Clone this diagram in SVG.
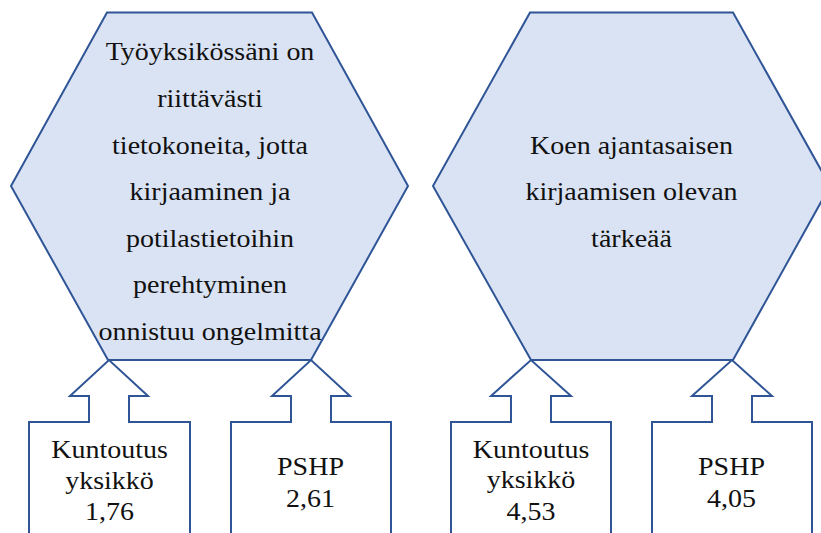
<svg xmlns="http://www.w3.org/2000/svg" width="821" height="533" viewBox="0 0 821 533">
<style>
.hex{fill:#DAE3F3;stroke:#2F5597;stroke-width:2;stroke-linejoin:miter}
.call{fill:#FFFFFF;stroke:#2F5597;stroke-width:2;stroke-linejoin:miter}
.t{font-family:'Liberation Serif','DejaVu Serif',serif;font-size:25px;fill:#111111;text-anchor:middle}
</style>
<rect width="821" height="533" fill="#FFFFFF"/>
<g id="connectors"></g>
<g id="hex1">
<polygon class="hex" points="107,12.5 312,12.5 408,186 311,360 108,360 11,186"/>
<g class="t" font-family="Liberation Serif" transform="translate(210,0) scale(1.12,1)">
<text x="0" y="60">Työyksikössäni on</text>
<text x="0" y="107">riittävästi</text>
<text x="0" y="154">tietokoneita, jotta</text>
<text x="0" y="200">kirjaaminen ja</text>
<text x="0" y="247">potilastietoihin</text>
<text x="0" y="293">perehtyminen</text>
<text x="0" y="340">onnistuu ongelmitta</text>
</g>
</g>
<g id="hex2">
<polygon class="hex" points="530,12.5 733,12.5 830,186 733,360 531,360 433,186"/>
<g class="t" font-family="Liberation Serif" transform="translate(631.5,0) scale(1.12,1)">
<text x="0" y="154">Koen ajantasaisen</text>
<text x="0" y="200">kirjaamisen olevan</text>
<text x="0" y="247">tärkeää</text>
</g>
</g>
<g id="box1">
<path class="call" d="M29,545 L29,422 L89,422 L89,396 L70,396 L109,360 L148,396 L129,396 L129,422 L190,422 L190,545 Z"/>
<g class="t" font-family="Liberation Serif" transform="translate(109.5,0) scale(1.12,1)">
<text x="0" y="458">Kuntoutus</text>
<text x="0" y="489">yksikkö</text>
<text x="0" y="520">1,76</text>
</g>
</g>
<g id="box2">
<path class="call" d="M231,545 L231,422 L291,422 L291,396 L272,396 L311,360 L350,396 L331,396 L331,422 L391,422 L391,545 Z"/>
<g class="t" font-family="Liberation Serif" transform="translate(310.5,0) scale(1.12,1)">
<text x="0" y="475">PSHP</text>
<text x="0" y="507">2,61</text>
</g>
</g>
<g id="box3">
<path class="call" d="M451,545 L451,422 L511,422 L511,396 L491,396 L531,360 L571,396 L551,396 L551,422 L611,422 L611,545 Z"/>
<g class="t" font-family="Liberation Serif" transform="translate(531,0) scale(1.12,1)">
<text x="0" y="458">Kuntoutus</text>
<text x="0" y="488">yksikkö</text>
<text x="0" y="520">4,53</text>
</g>
</g>
<g id="box4">
<path class="call" d="M652,545 L652,422 L712,422 L712,396 L692,396 L732,360 L772,396 L752,396 L752,422 L812,422 L812,545 Z"/>
<g class="t" font-family="Liberation Serif" transform="translate(731.5,0) scale(1.12,1)">
<text x="0" y="475">PSHP</text>
<text x="0" y="507">4,05</text>
</g>
</g>
</svg>
